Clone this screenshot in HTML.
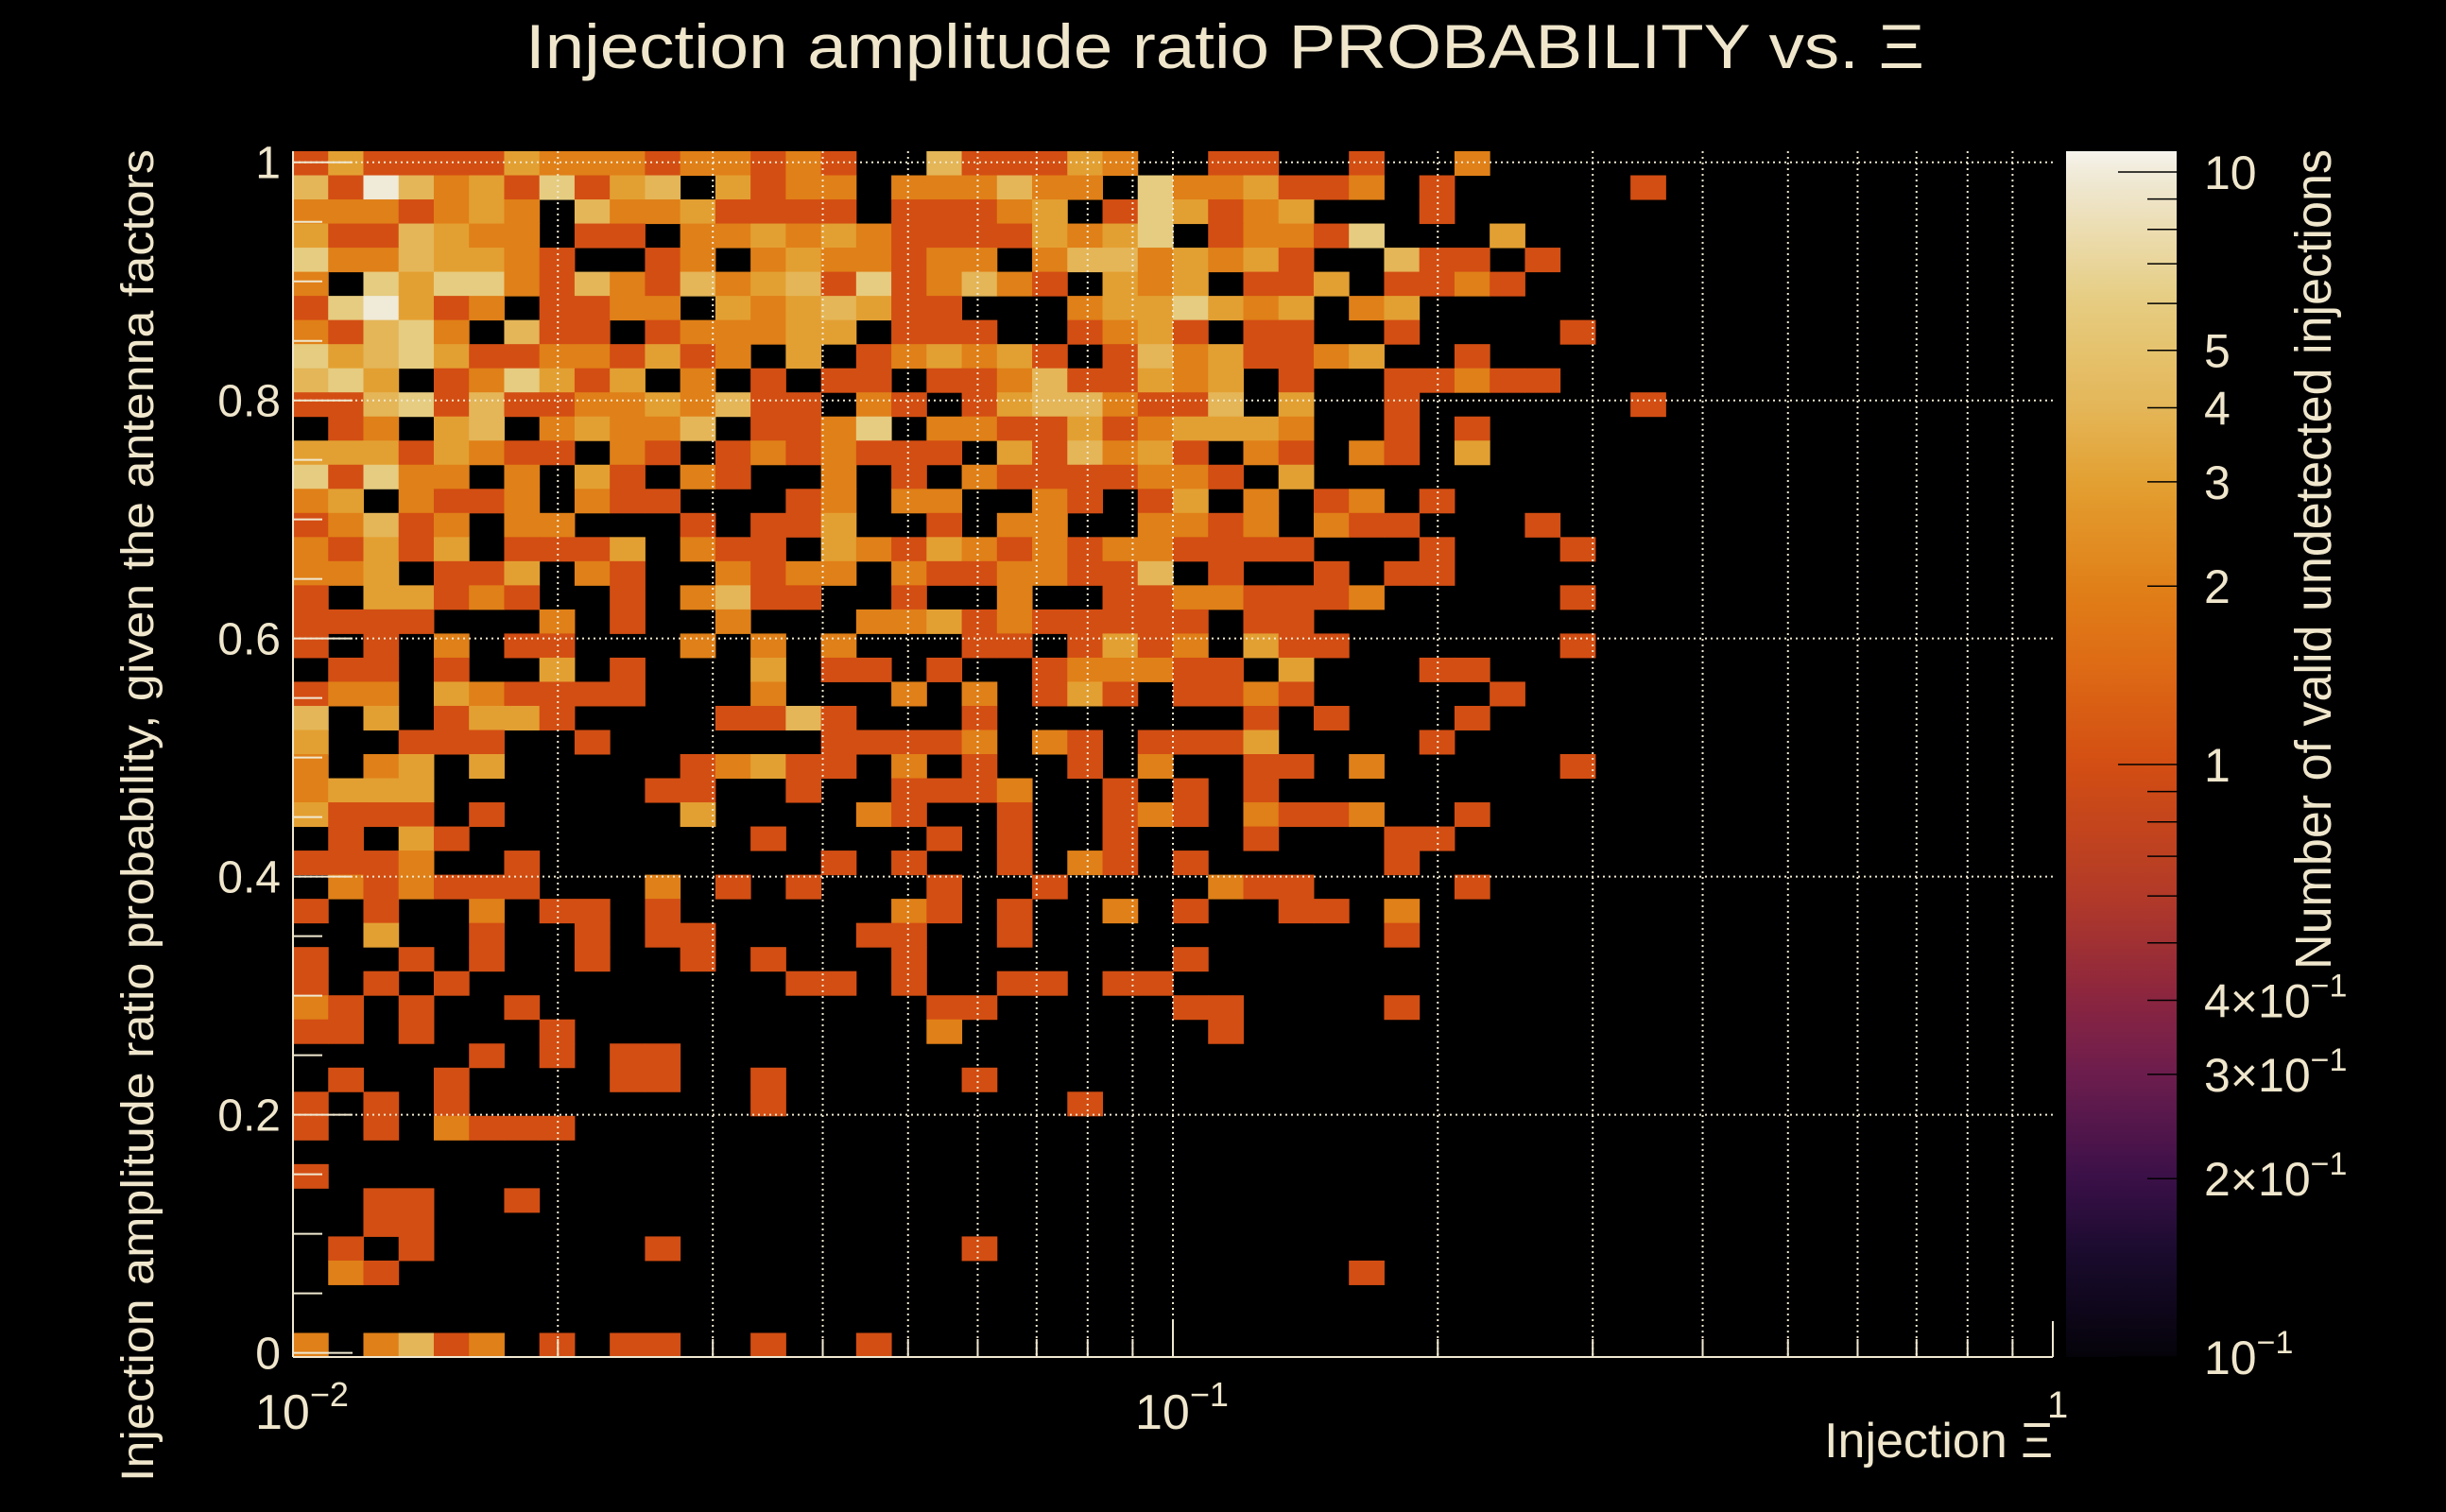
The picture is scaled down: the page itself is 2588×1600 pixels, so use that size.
<!DOCTYPE html>
<html><head><meta charset="utf-8"><title>Injection amplitude ratio PROBABILITY vs. Xi</title>
<style>
html,body{margin:0;padding:0;background:#000;}
svg{display:block;}
text{font-family:"Liberation Sans",sans-serif;fill:#efe6cc;}
</style></head>
<body>
<svg id="chart" width="2588" height="1600" viewBox="0 0 2588 1600" xmlns="http://www.w3.org/2000/svg">
<rect x="0" y="0" width="2588" height="1600" fill="#000"/>
<text x="1296" y="72" font-size="66" text-anchor="middle" textLength="1480" lengthAdjust="spacingAndGlyphs">Injection amplitude ratio PROBABILITY vs.  Ξ</text>
<g id="cells"></g>
<g id="grid"></g>
<g id="axes"></g>
<g id="cbar"></g>
<text transform="translate(162,1568) rotate(-90)" x="0" y="0" font-size="48" textLength="1410" lengthAdjust="spacingAndGlyphs">Injection amplitude ratio probability, given the antenna factors</text>
<text x="2172" y="1542" font-size="52" text-anchor="end">Injection Ξ</text>
<text transform="translate(2466,1026) rotate(-90)" x="0" y="0" font-size="54" textLength="868" lengthAdjust="spacingAndGlyphs">Number of valid undetected injections</text>
</svg>
<script>
// ---- data: counts per bin, row 0 = top (y≈1), 50 columns each (base-36 digits, 'a' = 10)
const binRows = [
"13111132221221210"+"04111320011001002"+"0000000000000000",
"41a42316134031220"+"22242206223112010"+"0000100000000000",
"22212320422311110"+"11123016312300010"+"0000000000000000",
"31143220110223232"+"11113236012216000"+"3000000000000000",
"62243321001202322"+"12202442323100411"+"0100000000000000",
"20636621421423416"+"12421032301130112"+"1000000000000000",
"16a31201122032343"+"11000233632302300"+"0000000000000000",
"21462041101222330"+"11100123101100100"+"0010000000000000",
"63463112213120301"+"23231014231123001"+"0000000000000000",
"46301263130201011"+"01124113230100112"+"1100000000000000",
"11461411223241102"+"10134421140300100"+"0000100000000000",
"01203402322401126"+"02211312333200101"+"0000000000000000",
"33313211021012121"+"11031423102102103"+"0000000000000000",
"61622020310210020"+"10211112210300000"+"0000000000000000",
"23021120211000120"+"22002101302012010"+"0000000000000000",
"12412022000101130"+"01022002212021100"+"0100000000000000",
"21313011130211032"+"13212122111100010"+"0010000000000000",
"22301130210021220"+"21122114010010110"+"0000000000000000",
"10331210010241100"+"10020011221112000"+"0010000000000000",
"11110002010020002"+"23121111101100000"+"0000000000000000",
"10102011000202020"+"00110131203110000"+"0010000000000000",
"01101003010003011"+"01001222110300011"+"0000000000000000",
"12203211110002000"+"20201310112100000"+"1000000000000000",
"40301331000011410"+"00100000001010001"+"0000000000000000",
"30011100100000011"+"11202101113000010"+"0000000000000000",
"20230300000123110"+"20100102001102000"+"0010000000000000",
"23330000001100100"+"11120010101000000"+"0000000000000000",
"31110100000300002"+"10010012102112001"+"0000000000000000",
"01031000000001000"+"01010010001000110"+"0000000000000000",
"11120010000000010"+"10010210100000100"+"0000000000000000",
"02121110002010100"+"01001000021100001"+"0000000000000000",
"10100201101000000"+"21010020100110200"+"0000000000000000",
"00300100101100001"+"10010000000000100"+"0000000000000000",
"10010100100101000"+"10000000100000000"+"0000000000000000",
"10101000000000110"+"10011011000000000"+"0000000000000000",
"21010010000000000"+"01100000110000100"+"0000000000000000",
"11010001000000000"+"02000000010000000"+"0000000000000000",
"00000101011000000"+"00000000000000000"+"0000000000000000",
"01001000011001000"+"00100000000000000"+"0000000000000000",
"10101000000001000"+"00000100000000000"+"0000000000000000",
"10102111000000000"+"00000000000000000"+"0000000000000000",
"00000000000000000"+"00000000000000000"+"0000000000000000",
"10000000000000000"+"00000000000000000"+"0000000000000000",
"00110010000000000"+"00000000000000000"+"0000000000000000",
"00110000000000000"+"00000000000000000"+"0000000000000000",
"01010000001000000"+"00100000000000000"+"0000000000000000",
"02100000000000000"+"00000000000001000"+"0000000000000000",
"00000000000000000"+"00000000000000000"+"0000000000000000",
"00000000000000000"+"00000000000000000"+"0000000000000000",
"20241201011001001"+"00000000000000000"+"0000000000000000"
];
const xRange = [0.01, 1];
const yRange = [-0.0035, 1.0093];
const nBinsX = 50, nBinsY = 50;
const yTickValues = [0, 0.2, 0.4, 0.6, 0.8, 1];
const yTickLabels = ["0", "0.2", "0.4", "0.6", "0.8", "1"];
const xDecades = [0.01, 0.1, 1];
const zRange = [0.1, 10.84];
const zMajorTicks = [0.1, 1, 10];
const zLabelValues = [10, 5, 4, 3, 2, 1, 0.4, 0.3, 0.2, 0.1];

// ---- axes (pixel mapping)
const PX = {left: 310, right: 2172, top: 160, bottom: 1436};
function xPix(v){ return PX.left + (Math.log10(v) - Math.log10(xRange[0])) / (Math.log10(xRange[1]) - Math.log10(xRange[0])) * (PX.right - PX.left); }
function yPix(v){ return PX.bottom - (v - yRange[0]) / (yRange[1] - yRange[0]) * (PX.bottom - PX.top); }
function zPix(v){ return PX.bottom - (Math.log10(v) - Math.log10(zRange[0])) / (Math.log10(zRange[1]) - Math.log10(zRange[0])) * (PX.bottom - PX.top); }
function xBinEdge(i){ return Math.pow(10, Math.log10(xRange[0]) + i * (Math.log10(xRange[1]) - Math.log10(xRange[0])) / nBinsX); }
function yBinEdge(j){ return yRange[0] + j * (yRange[1] - yRange[0]) / nBinsY; }

const stops = [[0.1,"#05030a"],[0.15,"#1a0b2e"],[0.2,"#3a1048"],[0.3,"#6c1d4e"],[0.4,"#8a2540"],[0.6,"#b23a28"],[1,"#d34e13"],[1.5,"#de6c15"],[2,"#e08018"],[3,"#e3a032"],[4,"#e4b658"],[6,"#e6cc80"],[10,"#f0ead8"],[11,"#f8f6f2"]];
function hex2rgb(h){ return [parseInt(h.substr(1,2),16),parseInt(h.substr(3,2),16),parseInt(h.substr(5,2),16)]; }
function cmap(v){
  const lv = Math.log10(v);
  if (v <= stops[0][0]) return stops[0][1];
  for (let k=1;k<stops.length;k++){
    if (v <= stops[k][0]){
      const a = Math.log10(stops[k-1][0]), b = Math.log10(stops[k][0]);
      const t = (lv - a)/(b - a);
      const c0 = hex2rgb(stops[k-1][1]), c1 = hex2rgb(stops[k][1]);
      return "rgb(" + c0.map((c,i)=>Math.round(c + (c1[i]-c)*t)).join(",") + ")";
    }
  }
  return stops[stops.length-1][1];
}

const NS = "http://www.w3.org/2000/svg";
function mk(tag, attrs, parent){ const e = document.createElementNS(NS, tag); for (const k in attrs) e.setAttribute(k, attrs[k]); parent.appendChild(e); return e; }

// ---- cells
const gCells = document.getElementById("cells");
for (let r = 0; r < binRows.length; r++){
  const row = binRows[r];
  const j = nBinsY - 1 - r;
  for (let i = 0; i < nBinsX; i++){
    const v = parseInt(row[i], 36);
    if (!v) continue;
    const x0 = xPix(xBinEdge(i)), x1 = xPix(xBinEdge(i+1));
    const y0 = yPix(yBinEdge(j+1)), y1 = yPix(yBinEdge(j));
    const el = mk("rect", {x: x0.toFixed(2), y: y0.toFixed(2), width: (x1-x0+0.5).toFixed(2), height: (y1-y0+0.5).toFixed(2), fill: cmap(v)}, gCells);
    
    
  }
}

// ---- grid
const gGrid = document.getElementById("grid");
const gridStyle = {stroke: "#f0e8d0", "stroke-width": 2, "stroke-dasharray": "2 4", fill: "none"};
for (let d = 0; d < xDecades.length - 1; d++){
  for (let m = 1; m <= 9; m++){
    const v = xDecades[d] * m;
    if (m === 1 && d === 0) continue;
    const x = xPix(v);
    const l = mk("line", Object.assign({x1: x, x2: x, y1: PX.top, y2: PX.bottom}, gridStyle), gGrid);
    
    
  }
}
for (let k = 1; k < yTickValues.length; k++){
  const y = yPix(yTickValues[k]);
  const l = mk("line", Object.assign({x1: PX.left, x2: PX.right, y1: y, y2: y}, gridStyle), gGrid);
  
  
}

// ---- axes
const gAx = document.getElementById("axes");
const axCol = "#f0e8d0";
let a = mk("line", {x1: PX.left, x2: PX.left, y1: PX.top, y2: PX.bottom, stroke: axCol, "stroke-width": 2}, gAx);


a = mk("line", {x1: PX.left, x2: PX.right, y1: PX.bottom, y2: PX.bottom, stroke: axCol, "stroke-width": 2}, gAx);


// y ticks (minor every 0.05)
for (let k = 0; k <= 20; k++){
  const v = k * 0.05;
  const y = yPix(v);
  const len = (k % 4 === 0) ? 63 : 31;
  const t = mk("line", {x1: PX.left, x2: PX.left + len, y1: y, y2: y, stroke: axCol, "stroke-width": 2}, gAx);
  
  
}
for (let k = 0; k < yTickValues.length; k++){
  const t = mk("text", {x: 297, y: yPix(yTickValues[k]) + 17, "font-size": 48, "text-anchor": "end"}, gAx);
  t.textContent = yTickLabels[k];
  
  
}
// x ticks
for (let d = 0; d < xDecades.length; d++){
  for (let m = 1; m <= 9; m++){
    const v = xDecades[d] * m;
    if (v > xRange[1] + 1e-9) break;
    const x = xPix(v);
    const len = m === 1 ? 38 : 19;
    const t = mk("line", {x1: x, x2: x, y1: PX.bottom, y2: PX.bottom - len, stroke: axCol, "stroke-width": 2}, gAx);
    
    
  }
}
const xLabExp = ["-2", "-1", null];
for (let d = 0; d < xDecades.length; d++){
  const x = xPix(xDecades[d]);
  const t = mk("text", {x: x - 40 + (d===2?34:0), y: 1512, "font-size": 52}, gAx);
  if (xLabExp[d]) {
    t.textContent = "10";
    const s = mk("tspan", {dy: -24, "font-size": 36}, t);
    s.textContent = "−" + xLabExp[d].slice(1);
  } else {
    t.setAttribute("y", 1500);
    t.setAttribute("font-size", 40);
    t.textContent = "1";
  }
  
  
}

// ---- colorbar
const gC = document.getElementById("cbar");
const defs = mk("defs", {}, gC);
const grad = mk("linearGradient", {id: "cbgrad", x1: 0, y1: 1, x2: 0, y2: 0}, defs);
for (let s = 0; s <= 80; s++){
  const f = s / 80;
  const v = Math.pow(10, Math.log10(zRange[0]) + f * (Math.log10(zRange[1]) - Math.log10(zRange[0])));
  mk("stop", {offset: f, "stop-color": cmap(v)}, grad);
}
const CB = {left: 2186, right: 2303};
let cb = mk("rect", {x: CB.left, y: PX.top, width: CB.right - CB.left, height: PX.bottom - PX.top, fill: "url(#cbgrad)"}, gC);


for (let d = 0; d < zMajorTicks.length; d++){
  for (let m = 1; m <= 9; m++){
    const v = zMajorTicks[d] * m;
    if (v > zRange[1]) break;
    if (v < zRange[0]) continue;
    const y = zPix(v);
    const len = m === 1 ? 62 : 31;
    const t = mk("line", {x1: CB.right, x2: CB.right - len, y1: y, y2: y, stroke: "#000", "stroke-width": 1.5}, gC);
    
    
  }
}
for (let k = 0; k < zLabelValues.length; k++){
  const v = zLabelValues[k];
  const y = zPix(v) + 18;
  const t = mk("text", {x: 2332, y: y, "font-size": 50}, gC);
  if (v >= 1) { t.textContent = String(v); }
  else if (v === 0.1) { t.textContent = "10"; const s = mk("tspan", {dy: -22, "font-size": 34}, t); s.textContent = "−1"; }
  else { t.textContent = Math.round(v*10) + "×10"; const s = mk("tspan", {dy: -22, "font-size": 34}, t); s.textContent = "−1"; }
  
  
}
</script>
</body></html>
